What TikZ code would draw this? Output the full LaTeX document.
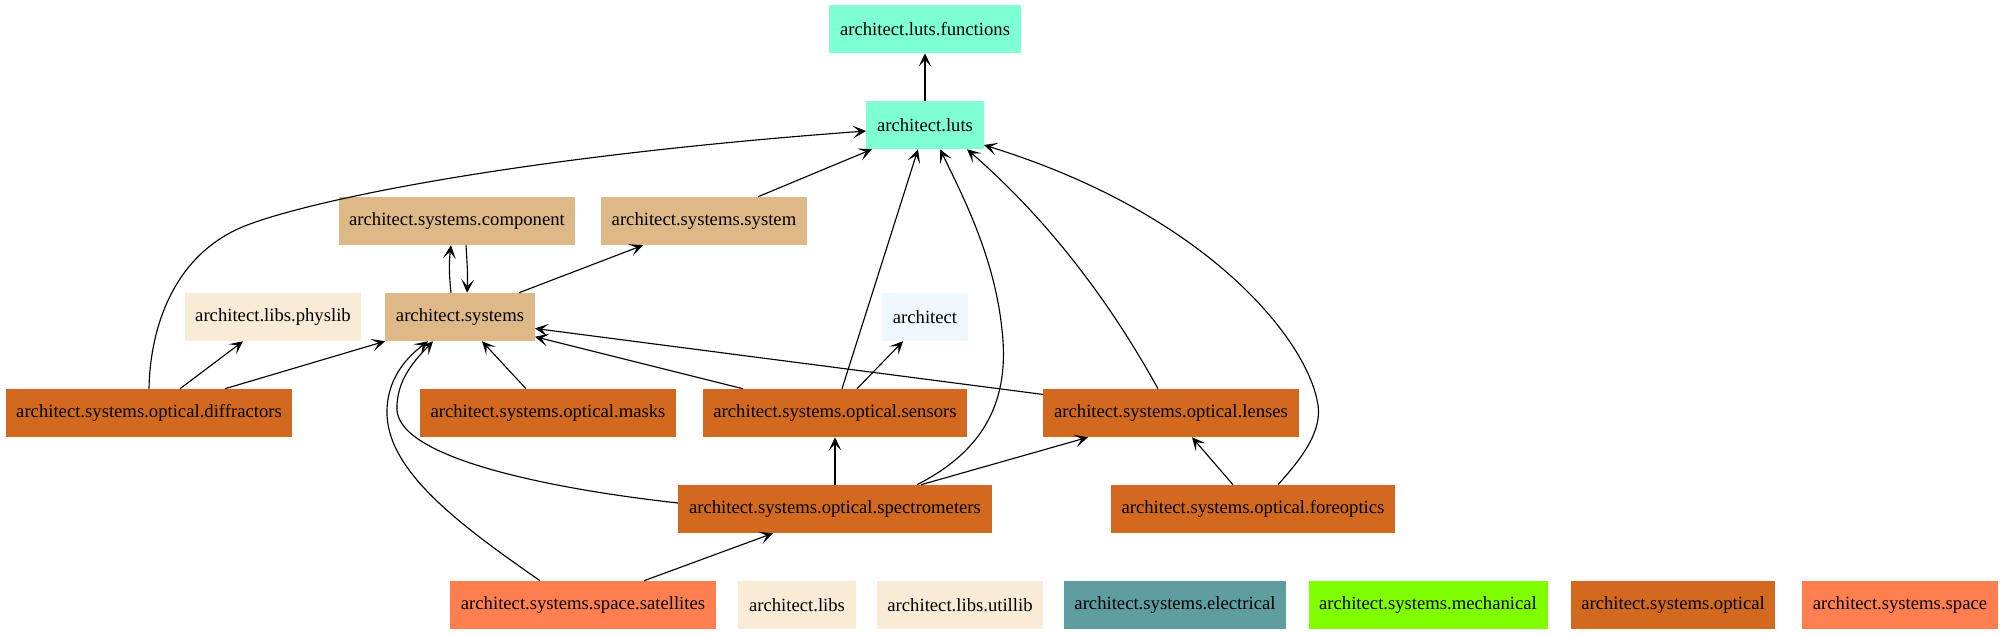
\documentclass[tikz,border=0pt]{standalone}
\usepackage{fontspec}
\setmainfont{Liberation Serif}
\usetikzlibrary{arrows.meta}

\definecolor{aquam}{HTML}{7FFFD4}
\definecolor{burly}{HTML}{DEB887}
\definecolor{antiq}{HTML}{FAEBD7}
\definecolor{alice}{HTML}{F0F8FF}
\definecolor{choco}{HTML}{D2691E}
\definecolor{corallo}{HTML}{FF7F50}
\definecolor{cadet}{HTML}{5F9EA0}
\definecolor{chartr}{HTML}{7FFF00}

\tikzset{
  modulo/.style={rectangle, minimum height=36pt, inner xsep=8pt, inner ysep=0pt, font=\fontsize{14}{17}\selectfont},
  dip/.style={-{Stealth[length=10pt,width=9.5pt,inset=5pt]}, line width=0.85pt},
}

\begin{document}
\begin{tikzpicture}[x=0.75pt,y=-0.75pt]
        \useasboundingbox (0,0) rectangle (2005,635);
        % nodi luts
        \node[modulo,fill=aquam] (lutsfun) at (925,29) {architect.luts.functions};
        \node[modulo,fill=aquam] (luts) at (925,125) {architect.luts};
        % nodi systems
        \node[modulo,fill=burly] (comp) at (457,221) {architect.systems.component};
        \node[modulo,fill=burly] (sysys) at (704,221) {architect.systems.system};
        \node[modulo,fill=antiq] (physlib) at (273,317) {architect.libs.physlib};
        \node[modulo,fill=burly] (systems) at (460,317) {architect.systems};
        \node[modulo,fill=alice] (arch) at (925,317) {architect};
        % nodi optical
        \node[modulo,fill=choco] (diffr) at (149,413) {architect.systems.optical.diffractors};
        \node[modulo,fill=choco] (masks) at (548,413) {architect.systems.optical.masks};
        \node[modulo,fill=choco] (sensors) at (835,413) {architect.systems.optical.sensors};
        \node[modulo,fill=choco] (lenses) at (1171,413) {architect.systems.optical.lenses};
        \node[modulo,fill=choco] (spectro) at (835,509) {architect.systems.optical.spectrometers};
        \node[modulo,fill=choco] (foreopt) at (1253,509) {architect.systems.optical.foreoptics};
        % riga in basso
        \node[modulo,fill=corallo] (sat) at (583,605) {architect.systems.space.satellites};
        \node[modulo,fill=antiq] (libs) at (797,605) {architect.libs};
        \node[modulo,fill=antiq] (utillib) at (960,605) {architect.libs.utillib};
        \node[modulo,fill=cadet] (electr) at (1175,605) {architect.systems.electrical};
        \node[modulo,fill=chartr] (mech) at (1428,605) {architect.systems.mechanical};
        \node[modulo,fill=choco] (optical) at (1673,605) {architect.systems.optical};
        \node[modulo,fill=corallo] (space) at (1900,605) {architect.systems.space};

        % verso luts
        \draw[dip] (luts.north) -- (lutsfun.south);
        \draw[dip] (diffr.north) .. controls (150,330) and (172,258) .. (240,228) .. controls (295,204) and (500,158) .. ([yshift=-4.5pt]luts.west);
        \draw[dip] ([xshift=40.5pt]sysys.north) -- ([xshift=-39.75pt]luts.south);
        \draw[dip] ([xshift=5.25pt]sensors.north) -- ([xshift=-5.25pt]luts.south);
        \draw[dip] ([xshift=61.5pt]spectro.north) .. controls (985,450) and (1010,400) .. (1002,330) .. controls (995,260) and (965,200) .. ([xshift=11.25pt]luts.south);
        \draw[dip] ([xshift=-9.75pt]lenses.north) .. controls (1120,320) and (1060,230) .. ([xshift=31.5pt]luts.south);
        \draw[dip] ([xshift=18.75pt]foreopt.north) .. controls (1300,460) and (1325,430) .. (1317,400) .. controls (1305,340) and (1210,215) .. ([yshift=-15pt]luts.east);

        % component e system
        \draw[dip] ([xshift=-6.75pt]systems.north) .. controls (449,275) and (449,262) .. ([xshift=-4.5pt]comp.south);
        \draw[dip] ([xshift=6.75pt]comp.south) .. controls (467,262) and (468,275) .. ([xshift=5.25pt]systems.north);
        \draw[dip] ([xshift=44.25pt]systems.north) -- ([xshift=-45.75pt]sysys.south);

        % verso systems
        \draw[dip] ([xshift=23.25pt]diffr.north) -- ([xshift=-22.5pt]physlib.south);
        \draw[dip] ([xshift=57pt]diffr.north) -- ([xshift=-56.25pt]systems.south);
        \draw[dip] ([xshift=-16.5pt]masks.north) -- ([xshift=16.5pt]systems.south);
        \draw[dip] ([xshift=-69pt]sensors.north) -- ([yshift=3.4pt]systems.south east);
        \draw[dip] ([yshift=13.9pt]lenses.west) -- ([yshift=-8.6pt]systems.east);
        \draw[dip] ([yshift=4.5pt]spectro.west) .. controls (560,490) and (400,460) .. (397,410) .. controls (396,380) and (415,360) .. ([xshift=-20.25pt]systems.south);
        \draw[dip] ([xshift=-32.25pt]sat.north) .. controls (460,525) and (385,470) .. (387,410) .. controls (388,375) and (410,355) .. ([xshift=-24pt]systems.south);

        % sensors, spectrometers, lenses
        \draw[dip] ([xshift=16.5pt]sensors.north) -- ([xshift=-16.5pt]arch.south);
        \draw[dip] (spectro.north) -- (sensors.south);
        \draw[dip] ([xshift=45.75pt]sat.north) -- ([xshift=-46.5pt]spectro.south);
        \draw[dip] ([xshift=64.5pt]spectro.north) -- ([xshift=-62.25pt]lenses.south);
        \draw[dip] ([xshift=-15pt]foreopt.north) -- ([xshift=15.75pt]lenses.south);
\end{tikzpicture}
\end{document}
